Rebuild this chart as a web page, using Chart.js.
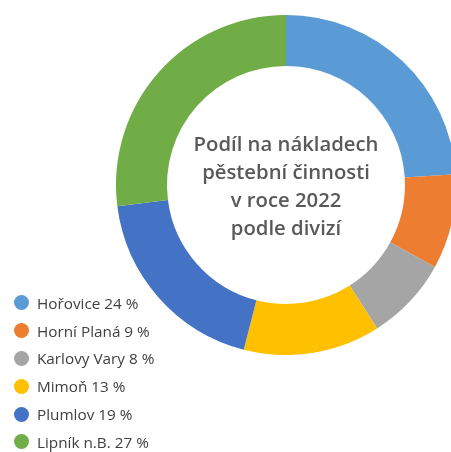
<!DOCTYPE html>
<html>
<head>
<meta charset="utf-8">
<script src="https://cdn.jsdelivr.net/npm/chart.js@4"></script>
<style>
    html, body { margin: 0; padding: 0; background: #fff; overflow: hidden; width: 451px; height: 452px; }
    #wrap { position: relative; width: 451px; height: 452px; overflow: hidden; }
    #chart { position: absolute; left: 0; top: 0; }
    #legend { position: absolute; left: 14px; top: 289px; font-family: 'Open Sans', Lato, sans-serif; font-size: 15.3px; color: #404040; }
    #legend .item { display: flex; align-items: center; height: 27.8px; }
    #legend .dot { width: 15px; height: 15px; border-radius: 50%; margin-right: 8px; flex: none; }
</style>
</head>
<body>
<div id="wrap">
    <canvas id="chart" width="572" height="370"></canvas>
    <div id="legend"></div>
</div>
<script>
    const divisions = ['Hořovice', 'Horní Planá', 'Karlovy Vary', 'Mimoň', 'Plumlov', 'Lipník n.B.'];
    const shares = [24, 9, 8, 13, 19, 27];
    const colors = ['#5b9bd5', '#ed7d31', '#a5a5a5', '#ffc000', '#4472c4', '#70ad47'];
    const centerLines = ['Podíl na nákladech', 'pěstební činnosti', 'v roce 2022', 'podle divizí'];

    const centerText = {
        id: 'centerText',
        afterDraw(chart) {
            const meta = chart.getDatasetMeta(0).data[0];
            if (!meta) return;
            const ctx = chart.ctx;
            ctx.save();
            ctx.fillStyle = '#595959';
            ctx.font = '600 20.3px "Open Sans", Lato, sans-serif';
            ctx.textAlign = 'center';
            ctx.textBaseline = 'middle';
            const lh = 28;
            const y0 = meta.y - lh * (centerLines.length - 1) / 2 + 2;
            centerLines.forEach((t, i) => ctx.fillText(t, meta.x, y0 + i * lh));
            ctx.restore();
        }
    };

    new Chart(document.getElementById('chart'), {
        type: 'doughnut',
        data: {
            labels: divisions,
            datasets: [{
                data: shares,
                backgroundColor: colors,
                borderWidth: 0,
            }],
        },
        options: {
            responsive: false,
            animation: false,
            cutout: '70%',
            layout: { padding: 15 },
            plugins: {
                legend: { display: false },
                tooltip: { enabled: false },
            },
        },
        plugins: [centerText],
    });

    const legend = document.getElementById('legend');
    divisions.forEach((d, i) => {
        const row = document.createElement('div');
        row.className = 'item';
        row.innerHTML = `<span class="dot" style="background:${colors[i]}"></span><span>${d} ${shares[i]} %</span>`;
        legend.appendChild(row);
    });
</script>
</body>
</html>
